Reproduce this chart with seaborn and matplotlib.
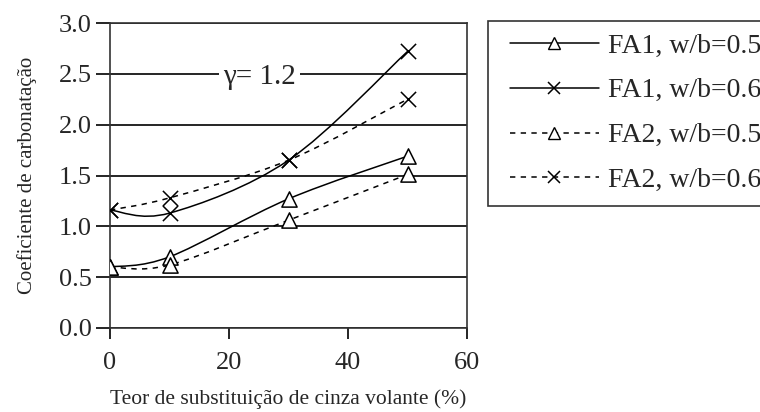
import numpy as np
import pandas as pd
import matplotlib
matplotlib.use("Agg")
import matplotlib.pyplot as plt
from matplotlib.path import Path
from matplotlib.patches import PathPatch, Rectangle
from matplotlib.lines import Line2D
import seaborn as sns

# ---- data ----
x_vals = [0, 10, 30, 50]
fa1_05 = [0.60, 0.70, 1.27, 1.69]
fa1_06 = [1.16, 1.13, 1.65, 2.72]
fa2_05 = [0.60, 0.62, 1.06, 1.51]
fa2_06 = [1.16, 1.28, 1.65, 2.25]
series_names = ["FA1, w/b=0.5", "FA1, w/b=0.6", "FA2, w/b=0.5", "FA2, w/b=0.6"]
x_ticks = [0, 20, 40, 60]
y_ticks = [0.0, 0.5, 1.0, 1.5, 2.0, 2.5, 3.0]
x_label = "Teor de substituição de cinza volante (%)"
y_label = "Coeficiente de carbonatação"
annotation = "γ= 1.2"

sns.set_theme(style="white")
plt.rcParams["font.family"] = ["Liberation Serif", "DejaVu Serif"]

W, H = 760, 412
fig = plt.figure(figsize=(W / 100, H / 100), dpi=100)
ax = fig.add_axes([110 / W, 1 - 328 / H, (467 - 110) / W, (328 - 23) / H])

df = pd.DataFrame({
    "x": x_vals * 4,
    "y": fa1_05 + fa1_06 + fa2_05 + fa2_06,
    "s": sum([[n] * len(x_vals) for n in series_names], []),
})

dash = (0, (3.5, 3.5))
styles = {
    series_names[0]: dict(ls="-", marker="^"),
    series_names[1]: dict(ls="-", marker="x"),
    series_names[2]: dict(ls=dash, marker="^"),
    series_names[3]: dict(ls=dash, marker="x"),
}


def smooth_path(xs, ys):
    pts = np.column_stack([xs, ys]).astype(float)
    n = len(pts)
    verts = [pts[0]]
    codes = [Path.MOVETO]
    for i in range(n - 1):
        p0 = pts[max(i - 1, 0)]
        p1 = pts[i]
        p2 = pts[i + 1]
        p3 = pts[min(i + 2, n - 1)]
        c1 = p1 + (p2 - p0) / 6.0
        c2 = p2 - (p3 - p1) / 6.0
        verts += [c1, c2, p2]
        codes += [Path.CURVE4] * 3
    return Path(verts, codes)


for name in series_names:
    sub = df[df["s"] == name]
    st = styles[name]
    patch = PathPatch(smooth_path(sub["x"].values, sub["y"].values),
                      facecolor="none", edgecolor="black", lw=1.1,
                      linestyle=st["ls"], zorder=3)
    ax.add_patch(patch)
    if st["marker"] == "^":
        sns.scatterplot(data=sub, x="x", y="y", ax=ax, marker="^", s=120,
                        facecolor="white", edgecolor="black", linewidth=1.1,
                        zorder=4, legend=False)
    else:
        sns.scatterplot(data=sub, x="x", y="y", ax=ax, marker="x", s=120,
                        color="black", linewidth=1.1, zorder=4, legend=False)

ax.set_xlim(0, 60)
ax.set_ylim(0, 3.0)
ax.set_xticks(x_ticks)
ax.set_yticks(y_ticks)
ax.set_yticklabels([f"{v:.1f}" for v in y_ticks])
for v in y_ticks:
    ax.axhline(v, color="black", lw=1.2, zorder=1)
for sp in ax.spines.values():
    sp.set_color("#333333")
    sp.set_linewidth(1.2)
ax.tick_params(axis="y", direction="out", length=10, width=1.2, color="black",
               labelsize=19, pad=3, left=True)
ax.tick_params(axis="x", direction="out", length=8, width=1.2, color="black",
               labelsize=19, pad=9, bottom=True)
ax.set_xlabel(x_label, fontsize=15.5, labelpad=11)
ax.set_ylabel(y_label, fontsize=15, labelpad=16)

ax.text(25.2, 2.47, annotation, fontsize=21, ha="center", va="center",
        bbox=dict(facecolor="white", edgecolor="none", pad=3), zorder=5)

# legend frame drawn in figure pixels
fig.patches.append(Rectangle((488 / W, 1 - 206 / H), (780 - 488) / W, (206 - 21) / H,
                             transform=fig.transFigure, facecolor="white",
                             edgecolor="#333333", lw=1.2, zorder=0))

handles = []
for name in series_names:
    st = styles[name]
    if st["marker"] == "^":
        h = Line2D([], [], color="black", lw=1.1, ls=st["ls"], marker="^",
                   markersize=8, markerfacecolor="white", markeredgecolor="black")
    else:
        h = Line2D([], [], color="black", lw=1.1, ls=st["ls"], marker="x",
                   markersize=8, markeredgewidth=1.1)
    handles.append(h)

leg = fig.legend(handles, series_names, loc="upper left",
                 bbox_to_anchor=(510 / W, 1 - 33 / H), fontsize=20,
                 handlelength=3.2, handletextpad=0.32, labelspacing=0.7,
                 borderpad=0, borderaxespad=0, frameon=False, numpoints=1)

fig.savefig("out.png", dpi=100)
